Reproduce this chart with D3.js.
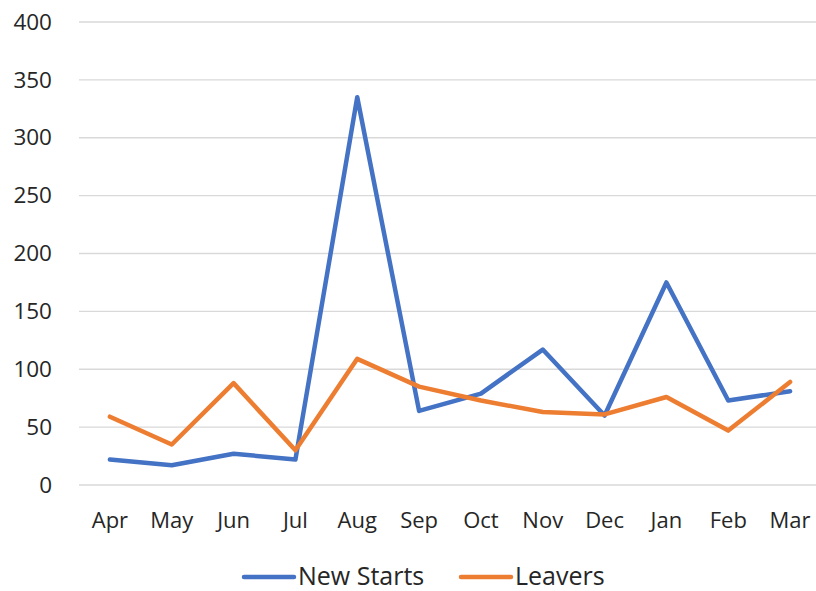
<!DOCTYPE html>
<html>
<head>
<meta charset="utf-8">
<script src="https://cdn.jsdelivr.net/npm/d3@7"></script>
<style>
  html, body { margin: 0; padding: 0; background: #fff; }
  svg { display: block; }
  text { font-family: "Open Sans", "Noto Sans", sans-serif; fill: #262626; }
</style>
</head>
<body>
<svg id="chart" width="816" height="591"></svg>
<script>
const months = ["Apr", "May", "Jun", "Jul", "Aug", "Sep", "Oct", "Nov", "Dec", "Jan", "Feb", "Mar"];
const newStarts = [22, 17, 27, 22, 335, 64, 79, 117, 60, 175, 73, 81];
const leavers = [59, 35, 88, 30, 109, 85, 73, 63, 61, 76, 47, 89];
const yTicks = [0, 50, 100, 150, 200, 250, 300, 350, 400];
const seriesNames = ["New Starts", "Leavers"];
const seriesColors = ["#4472C4", "#ED7D31"];

const svg = d3.select("#chart");
const plotLeft = 79, plotRight = 821, plotTop = 22, plotBottom = 485;

const x = d3.scaleBand().domain(months).range([plotLeft, plotRight]);
const y = d3.scaleLinear().domain([0, 400]).range([plotBottom, plotTop]);

// horizontal gridlines
svg.append("g").selectAll("line").data(yTicks).join("line")
  .attr("x1", plotLeft).attr("x2", plotRight)
  .attr("y1", d => y(d)).attr("y2", d => y(d))
  .attr("stroke", "#d9d9d9").attr("stroke-width", 1.3);

// y axis labels
const yAxis = d3.axisLeft(y).tickValues(yTicks).tickSize(0).tickPadding(0);
svg.append("g").attr("transform", "translate(52,0)").call(yAxis)
  .call(g => g.select(".domain").remove())
  .selectAll("text").attr("font-size", 22.5).attr("fill", "#262626")
  .style("font-family", "'Open Sans', 'Noto Sans', sans-serif");

// x axis labels
const xAxis = d3.axisBottom(x).tickSize(0).tickPadding(0);
svg.append("g").attr("transform", "translate(0,512)").call(xAxis)
  .call(g => g.select(".domain").remove())
  .selectAll("text").attr("font-size", 22).attr("fill", "#262626")
  .style("font-family", "'Open Sans', 'Noto Sans', sans-serif");

const line = d3.line()
  .x((d, i) => x(months[i]) + x.bandwidth() / 2)
  .y(d => y(d));

[newStarts, leavers].forEach((vals, k) => {
  svg.append("path").datum(vals)
    .attr("d", line)
    .attr("fill", "none")
    .attr("stroke", seriesColors[k])
    .attr("stroke-width", 4.5)
    .attr("stroke-linejoin", "round")
    .attr("stroke-linecap", "round");
});

// legend
const legendItems = [
  { name: seriesNames[0], color: seriesColors[0], x: 244 },
  { name: seriesNames[1], color: seriesColors[1], x: 461 }
];
const lg = svg.append("g");
legendItems.forEach(item => {
  lg.append("line")
    .attr("x1", item.x).attr("x2", item.x + 50)
    .attr("y1", 577).attr("y2", 577)
    .attr("stroke", item.color).attr("stroke-width", 4.5)
    .attr("stroke-linecap", "round");
  lg.append("text")
    .attr("x", item.x + 54).attr("y", 585)
    .attr("font-size", 25)
    .text(item.name);
});
</script>
</body>
</html>
